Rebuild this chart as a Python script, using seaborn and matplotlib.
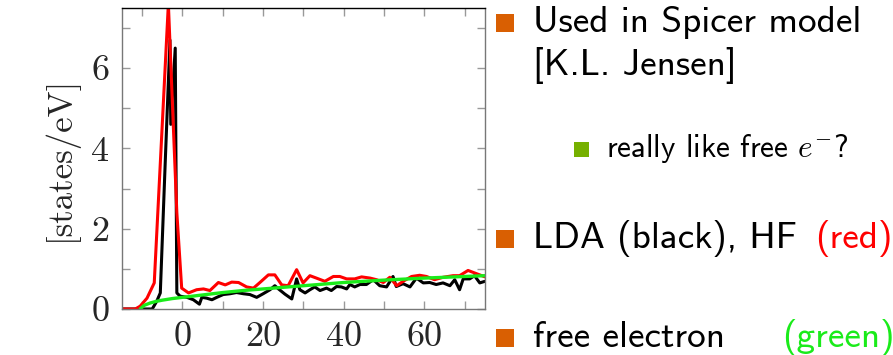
import numpy as np
import pandas as pd
import matplotlib
matplotlib.use("Agg")
import matplotlib.pyplot as plt
from matplotlib.patches import Rectangle
import seaborn as sns

# density of states
x_lda = [-15, -7.5, -6.4, -5.5, -4.3, -3.1, -2.9, -1.8, -1.4, -0.6, 1.1, 2.7, 4.2, 4.8, 6.0,
         7.3, 8.5, 10.1, 11.8, 13.4, 15.1, 16.7, 18.4, 20.0, 21.7, 22.9, 23.8, 25.4, 27.1,
         28.3, 29.1, 30.4, 31.6, 32.8, 34.1, 35.7, 36.9, 38.2, 39.4, 40.7, 41.5, 42.7, 44.0,
         45.6, 47.3, 48.9, 50.6, 52.2, 53.0, 54.7, 56.4, 58.0, 59.7, 61.3, 62.9, 64.6, 66.3,
         67.5, 68.7, 69.6, 71.2, 72.4, 73.7, 75]
y_lda = [0, 0, 0.19, 0.4, 3.6, 6.7, 4.6, 6.5, 0.4, 0.32, 0.29, 0.23, 0.12, 0.29, 0.27,
         0.23, 0.29, 0.36, 0.38, 0.41, 0.38, 0.36, 0.29, 0.38, 0.48, 0.58, 0.5, 0.37, 0.25,
         0.75, 0.48, 0.4, 0.48, 0.55, 0.46, 0.52, 0.46, 0.56, 0.55, 0.5, 0.61, 0.55, 0.61,
         0.61, 0.73, 0.58, 0.55, 0.81, 0.56, 0.63, 0.55, 0.77, 0.65, 0.66, 0.61, 0.65, 0.58,
         0.73, 0.48, 0.75, 0.75, 0.83, 0.65, 0.69]

x_hf = [-15, -11.7, -10.5, -8.8, -7.0, -3.5, -1.4, -0.2, 1.5, 3.5, 5.2, 6.8, 8.9, 10.6,
        12.2, 13.9, 15.9, 17.6, 19.2, 21.3, 22.9, 24.6, 26.2, 28.3, 29.9, 31.6, 33.2, 35.3,
        37.4, 39.0, 40.7, 42.7, 44.4, 46.5, 48.1, 49.8, 51.4, 53.1, 54.7, 56.8, 58.8, 60.5,
        62.5, 64.6, 67.1, 68.7, 70.8, 72.9, 75]
y_hf = [0, 0, 0.07, 0.27, 0.65, 7.6, 2.4, 0.52, 0.4, 0.48, 0.5, 0.46, 0.66, 0.6,
        0.67, 0.66, 0.55, 0.52, 0.66, 0.85, 0.85, 0.6, 0.58, 0.98, 0.65, 0.83, 0.77, 0.69,
        0.81, 0.81, 0.75, 0.75, 0.8, 0.77, 0.73, 0.66, 0.79, 0.58, 0.69, 0.81, 0.84, 0.81,
        0.73, 0.79, 0.83, 0.83, 0.96, 0.88, 0.8]

x_free = [-10.5, -9.5, -8, -6.5, -5, -2.5, 0, 5, 10, 15, 20, 30, 40, 50, 60, 75]
y_free = [0, 0.09, 0.15, 0.19, 0.22, 0.26, 0.29, 0.35, 0.41, 0.46, 0.50, 0.58, 0.66, 0.72, 0.77, 0.83]

sns.set_style("ticks")
plt.rcParams["mathtext.fontset"] = "cm"

fig = plt.figure(figsize=(8.93, 3.55), dpi=100)
ax = fig.add_axes([0.1366, 0.1296, 0.4065, 0.848])

sns.lineplot(x=x_lda, y=y_lda, color="black", lw=2.2, ax=ax)
sns.lineplot(x=x_hf, y=y_hf, color="#ff0000", lw=2.2, ax=ax)
sns.lineplot(x=x_free, y=y_free, color="#1aeb1a", lw=2.4, ax=ax)

ax.set_xlim(-15, 75)
ax.set_ylim(0, 7.5)
ax.set_xticks([0, 20, 40, 60])
ax.set_xticks([-10, 10, 30, 50, 70], minor=True)
ax.set_yticks([0, 2, 4, 6])
ax.set_yticks([1, 3, 5, 7], minor=True)
ax.tick_params(which="both", direction="in", top=True, right=True, length=6,
               width=1, color="#999999", labelsize=26, pad=9)
for lab in ax.get_xticklabels() + ax.get_yticklabels():
    lab.set_family("cmr10")
for side in ["left", "right", "bottom"]:
    ax.spines[side].set_color("#777777")
ax.spines["top"].set_color("black")
for s in ax.spines.values():
    s.set_linewidth(1)
ax.set_xlabel("")
ax.set_ylabel("[states/eV]", family="cmr10", fontsize=25, labelpad=10)

W, H = 893, 355
orange = "#d95f02"


def bullet(x, y, size, color):
    fig.patches.append(Rectangle((x / W, 1 - (y + size) / H), size / W, size / H,
                                 transform=fig.transFigure, color=color, lw=0))


def txt(x, y, s, size, color="black"):
    fig.text(x / W, 1 - y / H, s, fontsize=size, color=color, family="cmss10",
             va="baseline", ha="left")


bullet(496, 14, 18, orange)
txt(533, 32, "Used in Spicer model", 26.8)
txt(533, 75, "[K.L. Jensen]", 26.8)
bullet(574, 142, 15, "#76b000")
txt(606, 157, r"really like free $e^{-}$?", 22.5)
bullet(496, 230, 18, orange)
txt(533, 248, "LDA (black), HF", 26.8)
txt(815, 248, "(red)", 26.8, "#ff0000")
bullet(496, 329, 18, orange)
txt(533, 347, "free electron", 26.8)
txt(782, 347, "(green)", 26.8, "#1aeb1a")

fig.savefig("out.png", dpi=100)
